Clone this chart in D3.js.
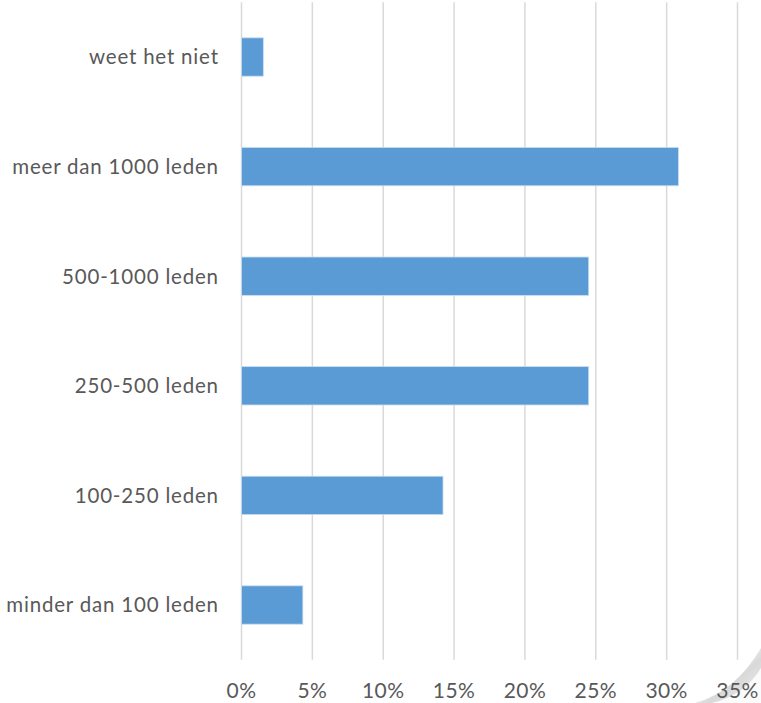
<!DOCTYPE html>
<html>
<head>
<meta charset="utf-8">
<script src="https://cdn.jsdelivr.net/npm/d3@7"></script>
<style>
  html, body { margin: 0; padding: 0; background: #fff; }
  svg { display: block; }
  text { font-family: Lato, "Open Sans", sans-serif; fill: #595959; }
</style>
</head>
<body>
<svg id="chart" width="761" height="703"></svg>
<script>
const categories = ["weet het niet", "meer dan 1000 leden", "500-1000 leden", "250-500 leden", "100-250 leden", "minder dan 100 leden"];
const values = [1.54, 30.83, 24.5, 24.5, 14.22, 4.33];
const tickValues = [0, 5, 10, 15, 20, 25, 30, 35];

const svg = d3.select("#chart");
const plotLeft = 241.5, plotRight = 737.5, plotTop = 2.2, plotBottom = 659.8;

const x = d3.scaleLinear().domain([0, 35]).range([plotLeft, plotRight]);
const y = d3.scaleBand().domain(categories).range([plotTop, plotBottom]).paddingInner(0.65).paddingOuter(0.325);

// page curl decoration (behind everything)
const defs = svg.append("defs");
const grad = defs.append("linearGradient").attr("id", "curl")
  .attr("x1", "0").attr("y1", "0").attr("x2", "1").attr("y2", "1");
grad.append("stop").attr("offset", "0%").attr("stop-color", "#ffffff").attr("stop-opacity", 0);
grad.append("stop").attr("offset", "60%").attr("stop-color", "#d4d4d4").attr("stop-opacity", 0.9);
grad.append("stop").attr("offset", "100%").attr("stop-color", "#f4f4f4").attr("stop-opacity", 1);
svg.append("path")
  .attr("d", "M695,703 Q735,692 761,648 L761,703 Z")
  .attr("fill", "url(#curl)");
svg.append("path")
  .attr("d", "M712,703 Q745,695 761,668 L761,703 Z")
  .attr("fill", "#fbfbfb");

// gridlines
svg.append("g").selectAll("line").data(tickValues).join("line")
  .attr("x1", d => x(d)).attr("x2", d => x(d))
  .attr("y1", plotTop).attr("y2", plotBottom)
  .attr("stroke", "#D9D9D9").attr("stroke-width", 1.5);

// bars
svg.append("g").selectAll("rect").data(categories).join("rect")
  .attr("x", x(0))
  .attr("y", d => y(d))
  .attr("width", (d, i) => x(values[i]) - x(0))
  .attr("height", y.bandwidth())
  .attr("fill", "#5B9BD5")
  .attr("stroke", "#C9DDF0").attr("stroke-width", 0.8);

// category labels
svg.append("g").selectAll("text").data(categories).join("text")
  .attr("x", 218.8)
  .attr("y", d => y(d) + y.bandwidth() / 2)
  .attr("dy", "0.36em")
  .attr("text-anchor", "end")
  .attr("font-size", 20.5)
  .attr("letter-spacing", 0.8)
  .text(d => d);

// x tick labels
svg.append("g").selectAll("text").data(tickValues).join("text")
  .attr("x", d => x(d))
  .attr("y", 698)
  .attr("text-anchor", "middle")
  .attr("font-size", 21)
  .attr("letter-spacing", 0.4)
  .text(d => d + "%");
</script>
</body>
</html>
